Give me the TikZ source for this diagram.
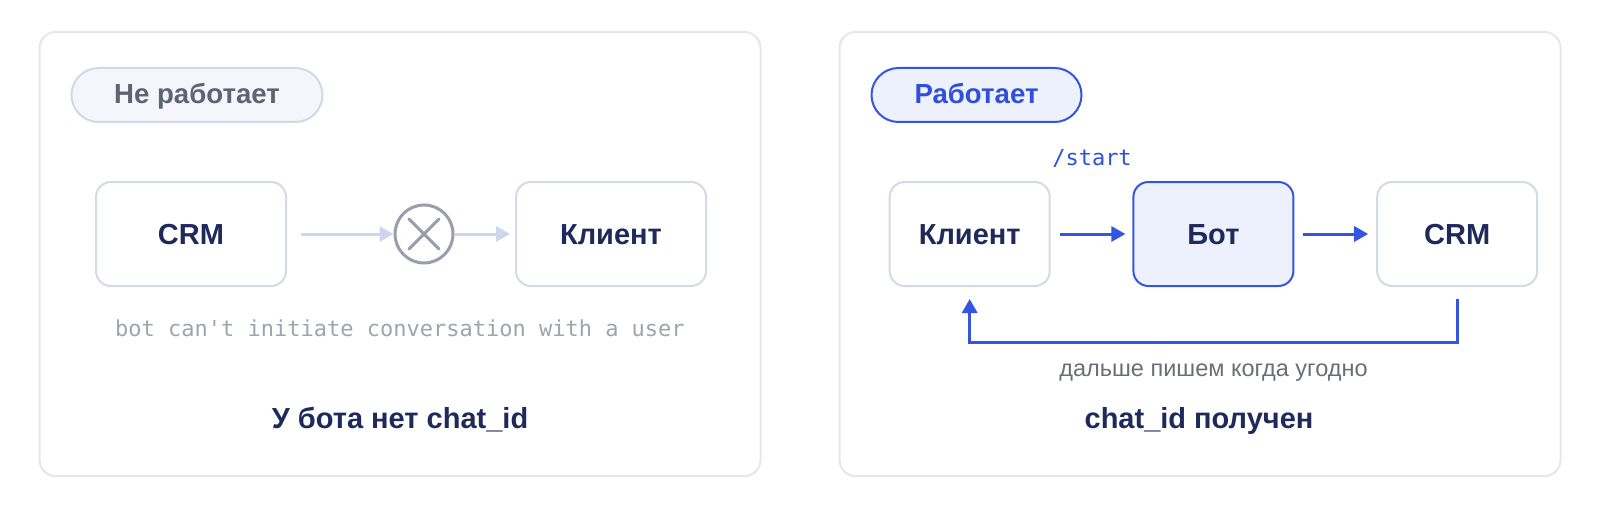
\documentclass[tikz,border=0pt]{standalone}
\usepackage{fontspec}
\setmainfont{Liberation Sans}
\newfontfamily\monof{DejaVu Sans Mono}
\usetikzlibrary{arrows.meta}
\definecolor{navy}{HTML}{1F2A5C}
\definecolor{panelline}{HTML}{E6E7EC}
\definecolor{boxline}{HTML}{D5DAE7}
\definecolor{pillfill}{HTML}{F4F6FB}
\definecolor{pillline}{HTML}{D3D8E8}
\definecolor{pilltext}{HTML}{5E6473}
\definecolor{blue}{HTML}{3355E0}
\definecolor{bluefill}{HTML}{EDF1FD}
\definecolor{bluetext}{HTML}{2F50DA}
\definecolor{lilac}{HTML}{CFD5EA}
\definecolor{circgray}{HTML}{9A9EAC}
\definecolor{capgray}{HTML}{A0A4AE}
\definecolor{fbgray}{HTML}{6B6E78}
\tikzset{
  panel/.style={draw=panelline, line width=2pt, fill=white, rounded corners=16pt},
  box/.style={draw=boxline, line width=2pt, fill=white, rounded corners=15pt,
    minimum height=104pt, inner sep=0pt},
  pill/.style={line width=2pt, rounded corners=27pt, minimum height=54pt, inner sep=0pt},
  lbl/.style={inner sep=0pt, anchor=base},
  boxlbl/.style={lbl, text=navy, font=\fontsize{29}{34}\selectfont\bfseries},
  pilllbl/.style={lbl, font=\fontsize{27.6}{32}\selectfont\bfseries},
  titlelbl/.style={lbl, text=navy, font=\fontsize{29}{34}\selectfont\bfseries},
  monolbl/.style={lbl, font=\monof\fontsize{22}{26}\selectfont},
  grayarrow/.style={draw=lilac, line width=3pt, -{Triangle[length=14pt,width=15pt]}},
  bluearrow/.style={draw=blue, line width=3pt, -{Triangle[length=14pt,width=15pt]}},
}
\begin{document}
\begin{tikzpicture}[x=1pt,y=-1pt]
\useasboundingbox[fill=white] (0,0) rectangle (1600,508);
% panels
\draw[panel] (39.5,32) rectangle (760.5,476);
\draw[panel] (839.5,32) rectangle (1560.5,476);

% left panel
\node[pill, draw=pillline, fill=pillfill, minimum width=251pt] (pillL) at (197,95) {};
\node[pilllbl, text=pilltext] (pillLt) at (197,103.5) {Не работает};
\node[box, minimum width=190pt] (crmL) at (191,234) {};
\node[boxlbl] (crmLt) at (191,244) {CRM};
\node[box, minimum width=190pt] (klL) at (611,234) {};
\node[boxlbl] (klLt) at (611,244) {Клиент};
\node[circle, draw=circgray, line width=3pt, minimum size=58pt, inner sep=0pt, fill=white] (cross) at (424,234) {};
\draw[circgray, line width=3pt, line cap=round] ([shift={(-15pt,15pt)}]cross.center) -- ([shift={(15pt,-15pt)}]cross.center);
\draw[circgray, line width=3pt, line cap=round] ([shift={(-15pt,-15pt)}]cross.center) -- ([shift={(15pt,15pt)}]cross.center);
\draw[grayarrow, shorten <=14pt] (crmL.east) -- (cross.west);
\draw[grayarrow, shorten >=5pt] (cross.east) -- (klL.west);
\node[monolbl, text=capgray] (capL) at (400,336) {bot can't initiate conversation with a user};
\node[titlelbl] (titleL) at (400,428) {У бота нет chat\_id};

% right panel
\node[pill, draw=blue, fill=bluefill, minimum width=210pt] (pillR) at (976.5,95) {};
\node[pilllbl, text=bluetext] (pillRt) at (976.5,103.5) {Работает};
\node[box, minimum width=160pt] (klR) at (969.7,234) {};
\node[boxlbl] (klRt) at (969.7,244) {Клиент};
\node[box, minimum width=160pt, draw=blue, fill=bluefill] (botR) at (1213.4,234) {};
\node[boxlbl] (botRt) at (1213.4,244) {Бот};
\node[box, minimum width=160pt] (crmR) at (1457.2,234) {};
\node[boxlbl] (crmRt) at (1457.2,244) {CRM};
\node[monolbl, text=bluetext] (start) at (1092,165) {/start};
\draw[bluearrow, shorten <=9pt, shorten >=7pt] (klR.east) -- (botR.west);
\draw[bluearrow, shorten <=9pt, shorten >=8pt] (botR.east) -- (crmR.west);
\draw[bluearrow, shorten <=12pt, shorten >=12pt] (crmR.south) -- ++(0,55) -| (klR.south);
\node[lbl, text=fbgray, font=\fontsize{23.5}{28}\selectfont] (fb) at (1213.5,376) {дальше пишем когда угодно};
\node[titlelbl] (titleR) at (1199,428) {chat\_id получен};
\end{tikzpicture}
\end{document}
